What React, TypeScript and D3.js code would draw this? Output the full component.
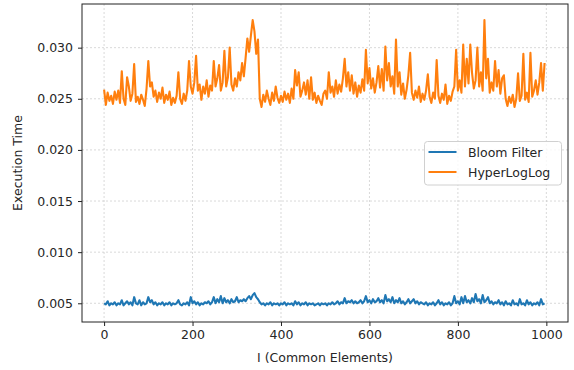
import React, { useEffect, useRef } from "react";
import * as d3 from "d3";

// sampled every 4th element (0, 4, ..., 996), execution time in seconds
const bloomTimes = [
  0.0050, 0.0049, 0.0052, 0.0048, 0.0050, 0.0049, 0.0051, 0.0048, 0.0050, 0.0049, 0.0053, 0.0048, 0.0050, 0.0052, 0.0049, 0.0051, 0.0048, 0.0056, 0.0050, 0.0049, 0.0053, 0.0048, 0.0051, 0.0049, 0.0050,
  0.0056, 0.0051, 0.0053, 0.0049, 0.0051, 0.0048, 0.0050, 0.0049, 0.0051, 0.0048, 0.0050, 0.0049, 0.0051, 0.0048, 0.0050, 0.0049, 0.0050, 0.0053, 0.0049, 0.0048, 0.0050, 0.0049, 0.0051, 0.0048, 0.0056,
  0.0050, 0.0052, 0.0049, 0.0051, 0.0048, 0.0050, 0.0049, 0.0051, 0.0050, 0.0052, 0.0049, 0.0051, 0.0056, 0.0050, 0.0054, 0.0051, 0.0057, 0.0050, 0.0055, 0.0051, 0.0053, 0.0050, 0.0054, 0.0051, 0.0052,
  0.0056, 0.0051, 0.0053, 0.0052, 0.0054, 0.0052, 0.0055, 0.0057, 0.0054, 0.0058, 0.0060, 0.0056, 0.0054, 0.0051, 0.0049, 0.0050, 0.0048, 0.0050, 0.0049, 0.0051, 0.0048, 0.0050, 0.0049, 0.0050, 0.0048,
  0.0050, 0.0049, 0.0051, 0.0048, 0.0050, 0.0049, 0.0050, 0.0048, 0.0052, 0.0049, 0.0051, 0.0048, 0.0050, 0.0049, 0.0051, 0.0048, 0.0050, 0.0049, 0.0050, 0.0048, 0.0049, 0.0050, 0.0048, 0.0050, 0.0049,
  0.0050, 0.0048, 0.0050, 0.0049, 0.0051, 0.0049, 0.0050, 0.0052, 0.0049, 0.0051, 0.0050, 0.0055, 0.0050, 0.0052, 0.0051, 0.0053, 0.0050, 0.0052, 0.0050, 0.0051, 0.0053, 0.0050, 0.0052, 0.0057, 0.0051,
  0.0053, 0.0050, 0.0054, 0.0051, 0.0052, 0.0055, 0.0051, 0.0053, 0.0050, 0.0058, 0.0052, 0.0054, 0.0051, 0.0056, 0.0050, 0.0053, 0.0051, 0.0055, 0.0050, 0.0052, 0.0049, 0.0051, 0.0054, 0.0050, 0.0052,
  0.0054, 0.0050, 0.0052, 0.0049, 0.0051, 0.0050, 0.0049, 0.0051, 0.0048, 0.0050, 0.0049, 0.0051, 0.0048, 0.0050, 0.0053, 0.0049, 0.0051, 0.0048, 0.0050, 0.0049, 0.0051, 0.0048, 0.0050, 0.0057, 0.0050,
  0.0052, 0.0049, 0.0056, 0.0050, 0.0057, 0.0051, 0.0053, 0.0050, 0.0055, 0.0051, 0.0059, 0.0052, 0.0054, 0.0050, 0.0058, 0.0051, 0.0053, 0.0056, 0.0050, 0.0052, 0.0049, 0.0051, 0.0050, 0.0053, 0.0049,
  0.0051, 0.0048, 0.0052, 0.0049, 0.0050, 0.0048, 0.0053, 0.0049, 0.0050, 0.0048, 0.0054, 0.0049, 0.0050, 0.0048, 0.0053, 0.0049, 0.0051, 0.0048, 0.0050, 0.0049, 0.0051, 0.0048, 0.0054, 0.0049, 0.0050,
];

const hllTimes = [
  0.0259, 0.0244, 0.0256, 0.0248, 0.0253, 0.0245, 0.0257, 0.0249, 0.0258, 0.0246, 0.0277, 0.0250, 0.0244, 0.0271, 0.0262, 0.0248, 0.0255, 0.0284, 0.0247, 0.0252, 0.0245, 0.0254, 0.0249, 0.0243, 0.0260,
  0.0287, 0.0262, 0.0266, 0.0252, 0.0258, 0.0247, 0.0256, 0.0250, 0.0261, 0.0246, 0.0254, 0.0249, 0.0257, 0.0244, 0.0251, 0.0246, 0.0253, 0.0276, 0.0250, 0.0245, 0.0255, 0.0248, 0.0258, 0.0287, 0.0262,
  0.0255, 0.0266, 0.0292, 0.0258, 0.0264, 0.0249, 0.0262, 0.0255, 0.0268, 0.0252, 0.0263, 0.0258, 0.0287, 0.0262, 0.0270, 0.0283, 0.0258, 0.0266, 0.0297, 0.0262, 0.0271, 0.0300, 0.0264, 0.0258, 0.0270,
  0.0262, 0.0276, 0.0268, 0.0285, 0.0272, 0.0290, 0.0309, 0.0296, 0.0312, 0.0327, 0.0316, 0.0294, 0.0308, 0.0250, 0.0242, 0.0254, 0.0247, 0.0258, 0.0250, 0.0244, 0.0256, 0.0248, 0.0262, 0.0251, 0.0246,
  0.0253, 0.0247, 0.0257, 0.0249, 0.0255, 0.0246, 0.0260, 0.0250, 0.0278, 0.0263, 0.0276, 0.0252, 0.0258, 0.0266, 0.0254, 0.0268, 0.0250, 0.0271, 0.0249, 0.0256, 0.0246, 0.0253, 0.0248, 0.0244, 0.0255,
  0.0258, 0.0250, 0.0276, 0.0256, 0.0262, 0.0252, 0.0268, 0.0255, 0.0264, 0.0257, 0.0270, 0.0289, 0.0262, 0.0276, 0.0258, 0.0273, 0.0255, 0.0266, 0.0252, 0.0263, 0.0256, 0.0269, 0.0258, 0.0298, 0.0265,
  0.0280, 0.0260, 0.0270, 0.0256, 0.0266, 0.0282, 0.0261, 0.0279, 0.0258, 0.0301, 0.0268, 0.0285, 0.0262, 0.0272, 0.0255, 0.0308, 0.0262, 0.0276, 0.0254, 0.0265, 0.0250, 0.0259, 0.0273, 0.0295, 0.0256,
  0.0249, 0.0258, 0.0251, 0.0262, 0.0247, 0.0255, 0.0249, 0.0258, 0.0274, 0.0252, 0.0246, 0.0256, 0.0250, 0.0288, 0.0253, 0.0246, 0.0255, 0.0249, 0.0264, 0.0245, 0.0253, 0.0248, 0.0257, 0.0262, 0.0298,
  0.0258, 0.0268, 0.0256, 0.0303, 0.0262, 0.0289, 0.0265, 0.0303, 0.0275, 0.0260, 0.0268, 0.0300, 0.0262, 0.0276, 0.0258, 0.0327, 0.0270, 0.0289, 0.0256, 0.0266, 0.0258, 0.0287, 0.0262, 0.0278, 0.0255,
  0.0270, 0.0273, 0.0250, 0.0243, 0.0252, 0.0246, 0.0254, 0.0242, 0.0250, 0.0275, 0.0248, 0.0253, 0.0294, 0.0249, 0.0256, 0.0247, 0.0295, 0.0252, 0.0258, 0.0268, 0.0254, 0.0266, 0.0285, 0.0258, 0.0285,
];

const seriesNames = ["Bloom Filter", "HyperLogLog"];
const seriesColors = ["#1f77b4", "#ff7f0e"];
const xTicks = [0, 200, 400, 600, 800, 1000];
const yTicks = [0.005, 0.01, 0.015, 0.02, 0.025, 0.03];

const App = () => {
  const ref = useRef<SVGSVGElement>(null);

  useEffect(() => {
    const svg = d3.select(ref.current);
    svg.selectAll("*").remove();

    const left = 82, right = 568, top = 4, bottom = 322;
    const font = "DejaVu Sans, sans-serif";

    const x = d3.scaleLinear().domain([-49.95, 1048.95]).range([left, right]);
    const y = d3.scaleLinear().domain([0.00317, 0.03427]).range([bottom, top]);

    // grid
    const grid = svg.append("g");
    grid.selectAll("line.gx").data(xTicks).enter().append("line")
      .attr("x1", (d) => x(d)).attr("x2", (d) => x(d)).attr("y1", top).attr("y2", bottom)
      .attr("stroke", "#c0c0c0").attr("stroke-width", 0.6).attr("stroke-dasharray", "2,2");
    grid.selectAll("line.gy").data(yTicks).enter().append("line")
      .attr("y1", (d) => y(d)).attr("y2", (d) => y(d)).attr("x1", left).attr("x2", right)
      .attr("stroke", "#c0c0c0").attr("stroke-width", 0.6).attr("stroke-dasharray", "2,2");

    const line = d3.line<number>().x((d, i) => x(i * 4)).y((d) => y(d));
    [bloomTimes, hllTimes].forEach((vals, k) => {
      svg.append("path").datum(vals)
        .attr("d", line)
        .attr("fill", "none")
        .attr("stroke", seriesColors[k])
        .attr("stroke-width", 2.1)
        .attr("stroke-linejoin", "round");
    });

    // frame
    svg.append("rect").attr("x", left).attr("y", top).attr("width", right - left).attr("height", bottom - top)
      .attr("fill", "none").attr("stroke", "#222").attr("stroke-width", 1);

    const xAxis = svg.append("g").attr("transform", `translate(0,${bottom})`)
      .call(d3.axisBottom(x).tickValues(xTicks).tickFormat(d3.format("d")).tickSize(4).tickPadding(4));
    const yAxis = svg.append("g").attr("transform", `translate(${left},0)`)
      .call(d3.axisLeft(y).tickValues(yTicks).tickFormat(d3.format(".3f")).tickSize(4).tickPadding(5));
    [xAxis, yAxis].forEach((g) => {
      g.select(".domain").remove();
      g.selectAll("line").attr("stroke", "#222");
      g.selectAll("text").attr("font-family", font).attr("font-size", 12.5).attr("fill", "#262626");
    });

    svg.append("text").attr("x", (left + right) / 2).attr("y", 362)
      .attr("text-anchor", "middle").attr("font-family", font).attr("font-size", 12.5).attr("fill", "#262626")
      .text("I (Common Elements)");
    svg.append("text").attr("transform", `translate(22,${(top + bottom) / 2}) rotate(-90)`)
      .attr("text-anchor", "middle").attr("font-family", font).attr("font-size", 12.5).attr("fill", "#262626")
      .text("Execution Time");

    // legend
    const lg = svg.append("g");
    lg.append("rect").attr("x", 424.5).attr("y", 141.5).attr("width", 137).attr("height", 43.5)
      .attr("rx", 3).attr("fill", "white").attr("fill-opacity", 0.8).attr("stroke", "#d0d0d0");
    seriesNames.forEach((name, i) => {
      const ly = 152 + i * 20;
      lg.append("line").attr("x1", 428.5).attr("x2", 456.5).attr("y1", ly).attr("y2", ly)
        .attr("stroke", seriesColors[i]).attr("stroke-width", 2);
      lg.append("text").attr("x", 468).attr("y", ly + 4.5)
        .attr("font-family", font).attr("font-size", 12.5).attr("fill", "#262626").text(name);
    });
  }, []);

  return (
    <svg ref={ref} width={574} height={370} style={{ position: "absolute", left: 0, top: 0, background: "white" }} />
  );
};

export default App;
